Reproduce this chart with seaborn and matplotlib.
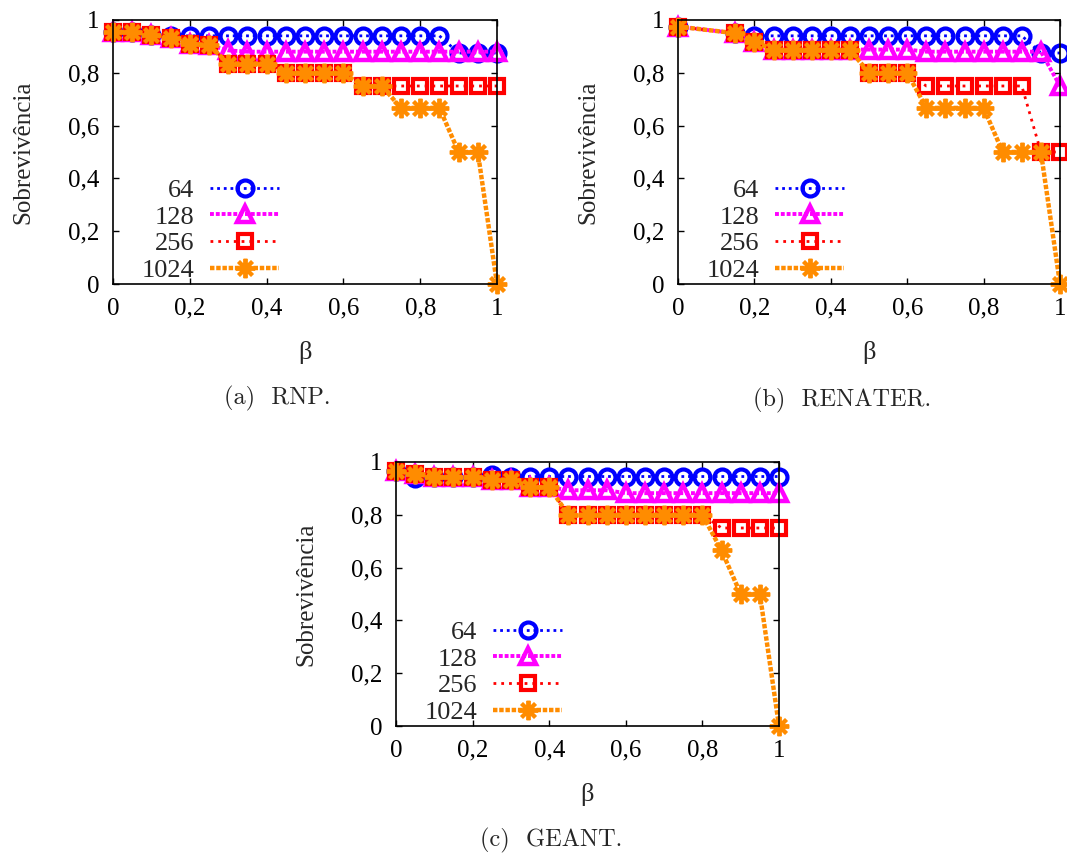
import matplotlib
matplotlib.use("Agg")
import matplotlib.pyplot as plt
import seaborn as sns
from matplotlib.ticker import FixedLocator, FixedFormatter

sns.set_style("white")
plt.rcParams['font.family'] = ['Liberation Serif', 'DejaVu Serif']

# ---------------- data ----------------
series_names = ["64", "128", "256", "1024"]
tick_values = [0, 0.2, 0.4, 0.6, 0.8, 1]
tick_labels = ["0", "0,2", "0,4", "0,6", "0,8", "1"]

beta_rnp = [0.0, 0.05, 0.1, 0.15, 0.2, 0.25, 0.3, 0.35, 0.4, 0.45, 0.5,
            0.55, 0.6, 0.65, 0.7, 0.75, 0.8, 0.85, 0.9, 0.95, 1.0]
rnp_64 = [0.955, 0.955, 0.945, 0.94, 0.94, 0.94, 0.94, 0.94, 0.94, 0.94, 0.94,
          0.94, 0.94, 0.94, 0.94, 0.94, 0.94, 0.94, 0.875, 0.875, 0.875]
rnp_128 = [0.955, 0.955, 0.945, 0.93, 0.91, 0.905, 0.885, 0.88, 0.88, 0.88, 0.88,
           0.88, 0.88, 0.88, 0.88, 0.88, 0.88, 0.88, 0.88, 0.88, 0.88]
rnp_256 = [0.955, 0.955, 0.945, 0.93, 0.91, 0.905, 0.835, 0.835, 0.835, 0.8, 0.8,
           0.8, 0.8, 0.75, 0.75, 0.75, 0.75, 0.75, 0.75, 0.75, 0.75]
rnp_1024 = [0.955, 0.955, 0.945, 0.93, 0.91, 0.905, 0.835, 0.835, 0.835, 0.8, 0.8,
            0.8, 0.8, 0.75, 0.75, 0.667, 0.667, 0.667, 0.5, 0.5, 0.0]

beta_ren = [0.0, 0.15, 0.2, 0.25, 0.3, 0.35, 0.4, 0.45, 0.5, 0.55, 0.6,
            0.65, 0.7, 0.75, 0.8, 0.85, 0.9, 0.95, 1.0]
ren_64 = [0.975, 0.95, 0.94, 0.94, 0.94, 0.94, 0.94, 0.94, 0.94, 0.94, 0.94,
          0.94, 0.94, 0.94, 0.94, 0.94, 0.94, 0.875, 0.875]
ren_128 = [0.975, 0.95, 0.918, 0.888, 0.888, 0.888, 0.888, 0.888, 0.888, 0.888, 0.888,
           0.88, 0.88, 0.88, 0.88, 0.88, 0.88, 0.88, 0.75]
ren_256 = [0.975, 0.95, 0.918, 0.887, 0.887, 0.887, 0.887, 0.887, 0.8, 0.8, 0.8,
           0.75, 0.75, 0.75, 0.75, 0.75, 0.75, 0.5, 0.5]
ren_1024 = [0.975, 0.95, 0.918, 0.887, 0.887, 0.887, 0.887, 0.887, 0.8, 0.8, 0.8,
            0.667, 0.667, 0.667, 0.667, 0.5, 0.5, 0.5, 0.0]

beta_geant = [0.0, 0.05, 0.1, 0.15, 0.2, 0.25, 0.3, 0.35, 0.4, 0.45, 0.5,
              0.55, 0.6, 0.65, 0.7, 0.75, 0.8, 0.85, 0.9, 0.95, 1.0]
geant_64 = [0.965, 0.94, 0.943, 0.943, 0.943, 0.95, 0.945, 0.945, 0.945, 0.945, 0.945,
            0.945, 0.945, 0.945, 0.945, 0.945, 0.945, 0.945, 0.945, 0.945, 0.945]
geant_128 = [0.965, 0.956, 0.943, 0.943, 0.943, 0.933, 0.933, 0.905, 0.905, 0.893, 0.893,
             0.893, 0.882, 0.882, 0.882, 0.882, 0.882, 0.882, 0.882, 0.882, 0.882]
geant_256 = [0.965, 0.956, 0.943, 0.943, 0.943, 0.933, 0.933, 0.905, 0.905, 0.8, 0.8,
             0.8, 0.8, 0.8, 0.8, 0.8, 0.8, 0.75, 0.75, 0.75, 0.75]
geant_1024 = [0.965, 0.956, 0.943, 0.943, 0.943, 0.933, 0.933, 0.905, 0.905, 0.8, 0.8,
              0.8, 0.8, 0.8, 0.8, 0.8, 0.8, 0.665, 0.5, 0.5, 0.0]

captions = ["(a)  RNP.", "(b)  RENATER.", "(c)  GEANT."]

# ---------------- styles ----------------
styles = {
    "64":   dict(color="#0000FF", marker="o", markersize=11.5, markeredgewidth=3.0,
                 markerfacecolor="none", linestyle=(0, (1.0, 1.4)), linewidth=2.0),
    "128":  dict(color="#FF00FF", marker="^", markersize=11, markeredgewidth=3.2,
                 markerfacecolor="none", linestyle=(0, (1.0, 0.5)), linewidth=2.8),
    "256":  dict(color="#FF0000", marker="s", markersize=10, markeredgewidth=3.0,
                 markerfacecolor="none", linestyle=(0, (1.0, 1.8)), linewidth=2.0),
    "1024": dict(color="#FF8C00", marker=(8, 2, 0), markersize=14, markeredgewidth=2.8,
                 markerfacecolor="none", linestyle=(0, (1.0, 0.4)), linewidth=3.2),
}

W, H = 1067, 855
fig = plt.figure(figsize=(W / 100, H / 100), dpi=100)

def box(l, t, r, b):
    return [l / W, 1 - b / H, (r - l) / W, (b - t) / H]

panels = [
    (box(113, 20, 497, 284), beta_rnp, [rnp_64, rnp_128, rnp_256, rnp_1024]),
    (box(678, 20, 1060, 284), beta_ren, [ren_64, ren_128, ren_256, ren_1024]),
    (box(396, 462, 779, 726), beta_geant, [geant_64, geant_128, geant_256, geant_1024]),
]
caption_pos = [(277, 398), (842, 400), (551, 840)]

for i, (rect, xs, ys_list) in enumerate(panels):
    ax = fig.add_axes(rect)
    for name, ys in zip(series_names, ys_list):
        st = styles[name]
        sns.lineplot(x=xs, y=ys, ax=ax, color=st["color"], marker=st["marker"],
                     markersize=st["markersize"], markeredgewidth=st["markeredgewidth"],
                     markeredgecolor=st["color"], markerfacecolor=st["markerfacecolor"],
                     linestyle=st["linestyle"], linewidth=st["linewidth"],
                     label=name, clip_on=False, estimator=None, sort=False)
    ax.set_xlim(0, 1)
    ax.set_ylim(0, 1)
    ax.xaxis.set_major_locator(FixedLocator(tick_values))
    ax.xaxis.set_major_formatter(FixedFormatter(tick_labels))
    ax.yaxis.set_major_locator(FixedLocator(tick_values))
    ax.yaxis.set_major_formatter(FixedFormatter(tick_labels))
    ax.tick_params(axis="both", direction="in", length=4, width=1, colors="black",
                   labelsize=18, top=True, right=True, bottom=True, left=True)
    ax.tick_params(axis="x", pad=10)
    ax.tick_params(axis="y", pad=10)
    for sp in ax.spines.values():
        sp.set_color("black")
        sp.set_linewidth(1.2)
    ax.set_xlabel("β", fontsize=19)
    ax.xaxis.set_label_coords(0.5, -0.215)
    ax.set_ylabel("Sobrevivência", fontsize=18)
    ax.yaxis.set_label_coords(-0.205, 0.5)
    handles, labels = ax.get_legend_handles_labels()
    ax.legend(handles, labels, loc="upper left", bbox_to_anchor=(0.075, 0.40),
              frameon=False, markerfirst=False, fontsize=19, borderpad=0,
              borderaxespad=0, handlelength=2.6, handletextpad=0.6,
              labelspacing=0.12, numpoints=1)
    cx, cy = caption_pos[i]
    fig.text(cx / W, 1 - cy / H, captions[i], ha="center", va="center",
             fontsize=17.5, family=["cmr10", "DejaVu Serif"])

fig.savefig("out.png", dpi=100)
